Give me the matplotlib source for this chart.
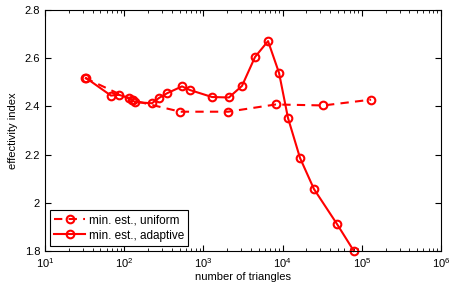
import matplotlib
matplotlib.use('Agg')
import matplotlib.pyplot as plt
import numpy as np

plt.rcParams['font.family'] = ['Liberation Sans', 'DejaVu Sans']
plt.rcParams['mathtext.default'] = 'regular'

# min. est., uniform refinement
uni_n = [32, 128, 512, 2048, 8192, 32768, 131072]
uni_eff = [2.518, 2.425, 2.378, 2.378, 2.408, 2.404, 2.428]

# min. est., adaptive refinement
ada_n = [33, 68, 86, 116, 126, 136, 224, 275, 350, 537, 676,
         1285, 2100, 3070, 4485, 6550, 9020, 11700, 16600, 24900, 48600, 79400]
ada_eff = [2.518, 2.445, 2.448, 2.435, 2.428, 2.418, 2.413, 2.435, 2.455, 2.483, 2.468,
           2.439, 2.437, 2.485, 2.605, 2.671, 2.539, 2.352, 2.186, 2.057, 1.912, 1.80]

fig = plt.figure(figsize=(4.53, 2.86), dpi=100)
ax = fig.add_axes([0.0993, 0.1224, 0.8742, 0.8426])

ax.semilogx(uni_n, uni_eff, '--o', color='red', lw=1.5, ms=5.5, mfc='none', mew=1.5,
            dashes=(4, 3), label='min. est., uniform', clip_on=False)
ax.semilogx(ada_n, ada_eff, '-o', color='red', lw=1.5, ms=5.5, mfc='none', mew=1.5,
            label='min. est., adaptive', clip_on=False)

ax.set_xlim(10, 1e6)
ax.set_ylim(1.8, 2.8)
ax.set_yticks(np.arange(1.8, 2.81, 0.2))
ax.set_yticklabels(['1.8', '2', '2.2', '2.4', '2.6', '2.8'])
ax.tick_params(which='both', direction='in', top=True, right=True, labelsize=8)
ax.tick_params(which='major', length=4)
ax.tick_params(which='minor', length=2)
ax.set_xlabel('number of triangles', fontsize=8, labelpad=2)
ax.set_ylabel('effectivity index', fontsize=8, labelpad=5)

leg = ax.legend(loc='lower left', fontsize=8.5, fancybox=False, framealpha=1,
                edgecolor='black', handlelength=2.6, handletextpad=0.3,
                labelspacing=0.25, borderpad=0.35, borderaxespad=0.45)
leg.get_frame().set_linewidth(0.8)

fig.savefig('out.png', dpi=100)
